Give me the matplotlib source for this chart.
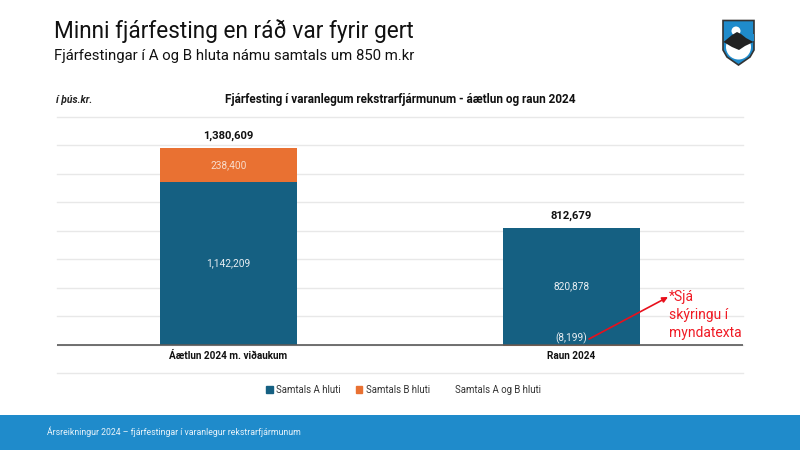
import matplotlib
matplotlib.use('Agg')
import matplotlib.pyplot as plt
from matplotlib.patches import Polygon, Circle, Rectangle, Patch
from matplotlib.lines import Line2D
import numpy as np

plt.rcParams['font.family'] = ['Roboto', 'DejaVu Sans']

# Data
categories = ['Áætlun 2024 m. viðaukum', 'Raun 2024']
a_hluti = [1142209, 820878]
b_hluti = [238400, -8199]
totals = [1380609, 812679]
a_labels = ['1,142,209', '820,878']
b_labels = ['238,400', '(8,199)']
total_labels = ['1,380,609', '812,679']
legend_labels = ['Samtals A hluti', 'Samtals B hluti', 'Samtals A og B hluti']

BLUE = '#156082'
ORANGE = '#E97132'
BANNER = '#1F8BCB'
W, H = 800, 450

fig = plt.figure(figsize=(8, 4.5), dpi=100)

# Overlay in pixel coordinates for banner and logo
bg = fig.add_axes([0, 0, 1, 1])
bg.set_xlim(0, W)
bg.set_ylim(H, 0)
bg.axis('off')
bg.add_patch(Rectangle((0, 415), 800, 35, color=BANNER, lw=0))

# Logo
shield = np.array([[723, 20.5], [754, 20.5], [754, 50], [750, 57], [738.5, 65], [727, 57], [723, 50]])
clip = Polygon(shield, closed=True, fc=BANNER, ec='#333333', lw=1.2)
bg.add_patch(clip)
lower = Circle((738.5, 47), 12.5, fc='white', ec='none')
bg.add_patch(lower)
lower.set_clip_path(clip)
bg.add_patch(Polygon([[723.5, 34], [753.5, 34], [753.5, 41], [723.5, 41]], closed=True, fc=BANNER, ec='none'))
bg.add_patch(Circle((736, 31), 4.5, fc='white', ec='none'))
bg.add_patch(Polygon([[723.5, 42], [732, 35], [737, 32], [741, 34], [746, 38], [753.5, 42], [745, 46], [739, 50], [732, 47]],
                     closed=True, fc='#222222', ec='none'))

# Titles
fig.text(54 / W, 1 - 31 / H, 'Minni fjárfesting en ráð var fyrir gert', fontsize=16.3, color='#111111', va='center')
fig.text(54 / W, 1 - 56 / H, 'Fjárfestingar í A og B hluta námu samtals um 850 m.kr', fontsize=10.7, color='#111111', va='center')
fig.text(56 / W, 1 - 100 / H, 'í þús.kr.', fontsize=7.4, fontweight='bold', style='italic', color='#222222', va='center')
fig.text(400 / W, 1 - 100 / H, 'Fjárfesting í varanlegum rekstrarfjármunum - áætlun og raun 2024',
         fontsize=8.5, fontweight='bold', color='#111111', ha='center', va='center')
fig.text(47 / W, 1 - 432 / H, 'Ársreikningur 2024 – fjárfestingar í varanlegur rekstrarfjármunum',
         fontsize=6.3, color='#E8F3FA', va='center')

# Chart
ax = fig.add_axes([57 / W, 1 - 373 / H, 686 / W, 256 / H])
ax.patch.set_alpha(0)
x = np.arange(len(categories))
bars_a = ax.bar(x, a_hluti, width=0.4, color=BLUE, zorder=2, label=legend_labels[0])
bottoms = [a if b > 0 else 0 for a, b in zip(a_hluti, b_hluti)]
bars_b = ax.bar(x, b_hluti, width=0.4, bottom=bottoms, color=ORANGE, zorder=2, label=legend_labels[1])

ax.set_xlim(-0.5, 1.5)
ax.set_ylim(-200000, 1600000)
ax.set_yticks(np.arange(-200000, 1600001, 200000))
ax.tick_params(axis='y', length=0, labelleft=False)
ax.grid(axis='y', color='#E8E8E8', lw=1, zorder=0, clip_on=False)
for s in ax.spines.values():
    s.set_visible(False)
ax.axhline(0, color='#595959', lw=1.2, zorder=3)
ax.set_xticks([])

# x labels sit just under the baseline, inside the axes
for i, c in enumerate(categories):
    ax.annotate(c, (i, 0), xytext=(0, -11), textcoords='offset pixels', ha='center', va='center',
                fontsize=7.2, fontweight='bold', color='#111111')

# Data labels
for i in range(2):
    ax.text(i, a_hluti[i] / 2, a_labels[i], color='#E8EEF2', fontsize=7.3, ha='center', va='center', zorder=4)
    top = a_hluti[i] + max(b_hluti[i], 0)
    ax.annotate(total_labels[i], (i, top), xytext=(0, 12), textcoords='offset pixels', ha='center', va='center',
                fontsize=8.1, fontweight='bold', color='#111111')
ax.text(0, a_hluti[0] + b_hluti[0] / 2, b_labels[0], color='#F8DCCB', fontsize=7.3, ha='center', va='center', zorder=4)
ax.annotate(b_labels[1], (1, 0), xytext=(0, 6), textcoords='offset pixels', color='#E8EEF2', fontsize=7.3,
            ha='center', va='center', zorder=4)

# Red note
bg2 = fig.add_axes([0, 0, 1, 1])
bg2.set_xlim(0, W)
bg2.set_ylim(H, 0)
bg2.axis('off')
bg2.annotate('', xy=(668, 297), xytext=(589, 339),
             arrowprops=dict(arrowstyle='-|>', color='#E8101C', lw=1.2, mutation_scale=8, shrinkA=0, shrinkB=0))
bg2.text(669, 315, '*Sjá\nskýringu í\nmyndatexta', color='#F01A24', fontsize=10, ha='left', va='center', linespacing=1.38)

# Legend
handles = [Patch(color=BLUE), Patch(color=ORANGE), Line2D([], [], color='none')]
fig.legend(handles, legend_labels, loc='center', bbox_to_anchor=(403.5 / W, 1 - 390 / H), ncol=3, frameon=False,
           fontsize=6.9, labelcolor='#333333', handlelength=0.7, handleheight=0.7, handletextpad=0.35, columnspacing=1.55)

fig.savefig('out.png', dpi=100)
